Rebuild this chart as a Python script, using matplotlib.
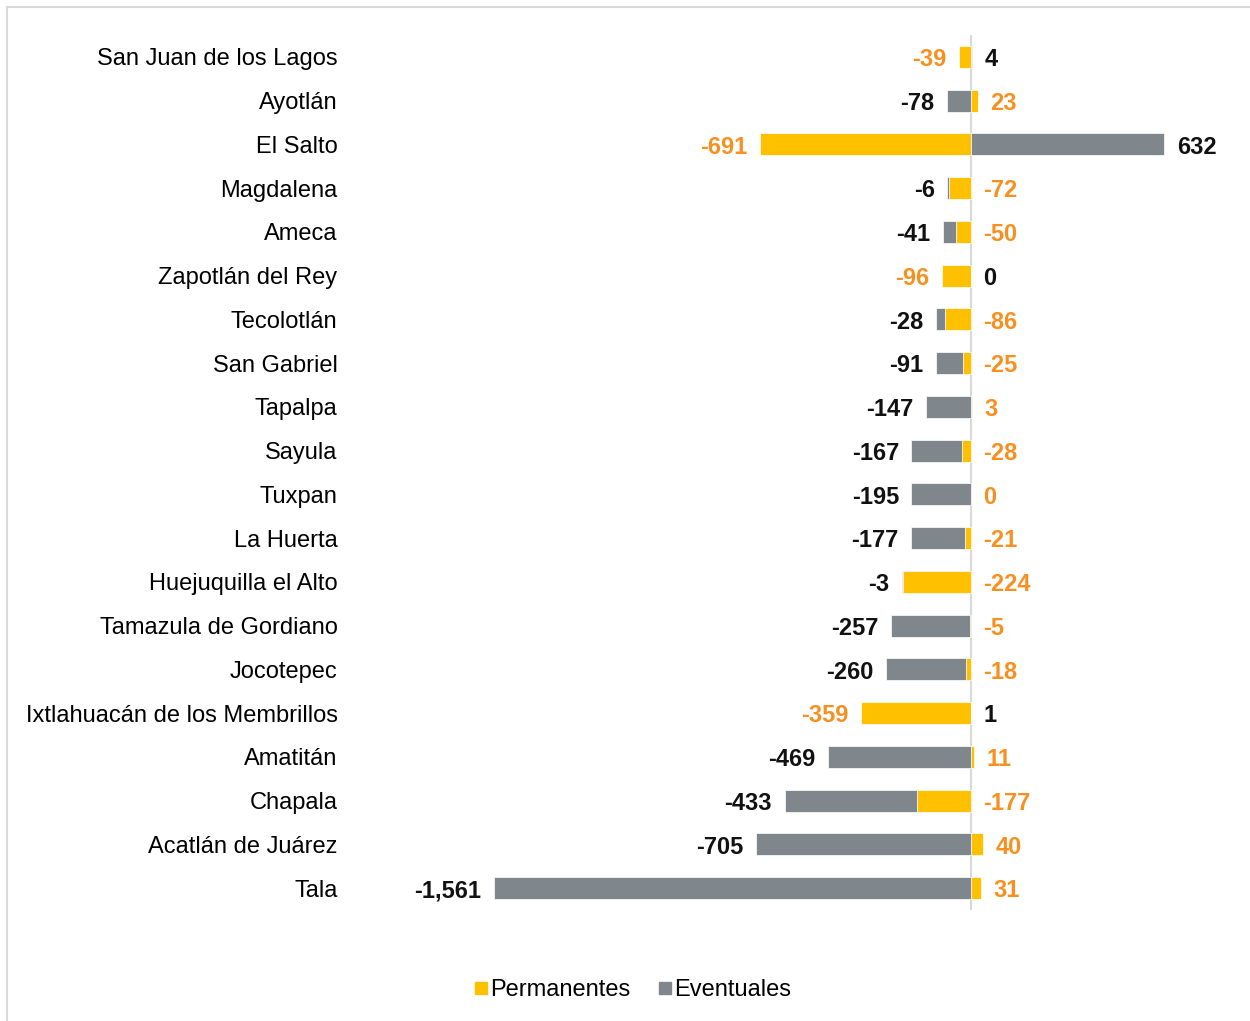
import matplotlib.pyplot as plt
from matplotlib.lines import Line2D
from matplotlib.patches import Rectangle

plt.rcParams['font.family'] = ['Liberation Sans', 'DejaVu Sans']

municipios = ["San Juan de los Lagos", "Ayotlán", "El Salto", "Magdalena", "Ameca",
              "Zapotlán del Rey", "Tecolotlán", "San Gabriel", "Tapalpa", "Sayula",
              "Tuxpan", "La Huerta", "Huejuquilla el Alto", "Tamazula de Gordiano",
              "Jocotepec", "Ixtlahuacán de los Membrillos", "Amatitán", "Chapala",
              "Acatlán de Juárez", "Tala"]
permanentes = [-39, 23, -691, -72, -50, -96, -86, -25, 3, -28,
               0, -21, -224, -5, -18, -359, 11, -177, 40, 31]
eventuales = [4, -78, 632, -6, -41, 0, -28, -91, -147, -167,
              -195, -177, -3, -257, -260, 1, -469, -433, -705, -1561]

amarillo = '#FFC000'
gris = '#7F878C'
naranja = '#F7901E'

fig = plt.figure(figsize=(12.5, 10.21), dpi=100)
ax = fig.add_axes([350 / 1250, 1 - 910 / 1021, 890 / 1250, 875 / 1021])

y = list(range(len(municipios)))
# permanentes van junto al cero, eventuales se apilan por fuera si tienen el mismo signo
ev_left = [p if (p < 0 and e < 0) or (p > 0 and e > 0) else 0 for p, e in zip(permanentes, eventuales)]
ax.barh(y, permanentes, height=0.5, color=amarillo, edgecolor='white', linewidth=0.5)
ax.barh(y, eventuales, left=ev_left, height=0.5, color=gris, edgecolor='white', linewidth=0.5)

ax.axvline(0, color='#D9D9D9', lw=1.5, zorder=0)

def etiqueta(x, yy, v, color, lado):
    off = -9 if lado == 'izq' else 9
    ha = 'right' if lado == 'izq' else 'left'
    ax.annotate(f"{v:,}", (x, yy), xytext=(off, -2), textcoords='offset points',
                ha=ha, va='center', fontsize=17, fontweight='bold', color=color)

for i, (p, e) in enumerate(zip(permanentes, eventuales)):
    if e < 0:
        etiqueta(e + min(p, 0), i, e, '#111111', 'izq')
        etiqueta(max(p, 0), i, p, naranja, 'der')
    else:
        etiqueta(min(p, 0), i, p, naranja, 'izq')
        etiqueta(max(e, 0), i, e, '#111111', 'der')

ax.set_xlim(-2032, 880)
ax.set_ylim(len(municipios) - 0.5, -0.5)
ax.set_yticks(y)
ax.set_yticklabels(municipios, fontsize=17)
ax.tick_params(axis='y', length=0, pad=9)
ax.set_xticks([])
for s in ax.spines.values():
    s.set_visible(False)

handles = [Line2D([], [], marker='s', ls='', color=amarillo, markersize=9),
           Line2D([], [], marker='s', ls='', color=gris, markersize=9)]
fig.legend(handles, ['Permanentes', 'Eventuales'], loc='center',
           bbox_to_anchor=(633 / 1250, 1 - 990 / 1021), ncol=2, frameon=False,
           fontsize=17, handlelength=0.5, handletextpad=0.15, columnspacing=1.2)

fig.patches.append(Rectangle((7 / 1250, -0.1), 1.2, 1.1 - 7 / 1021, transform=fig.transFigure,
                             fill=False, edgecolor='#D9D9D9', lw=1.5))

fig.savefig('out.png', dpi=100)
